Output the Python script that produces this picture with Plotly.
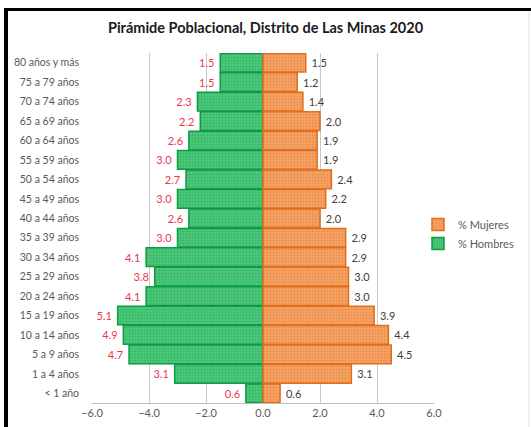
import plotly.graph_objects as go

categories = ["80 años y más", "75 a 79 años", "70 a 74 años", "65 a 69 años", "60 a 64 años",
              "55 a 59 años", "50 a 54 años", "45 a 49 años", "40 a 44 años", "35 a 39 años",
              "30 a 34 años", "25 a 29 años", "20 a 24 años", "15 a 19 años", "10 a 14 años",
              "5 a 9 años", "1 a 4 años", "< 1 año"]
hombres = [1.5, 1.5, 2.3, 2.2, 2.6, 3.0, 2.7, 3.0, 2.6, 3.0, 4.1, 3.8, 4.1, 5.1, 4.9, 4.7, 3.1, 0.6]
mujeres = [1.5, 1.2, 1.4, 2.0, 1.9, 1.9, 2.4, 2.2, 2.0, 2.9, 2.9, 3.0, 3.0, 3.9, 4.4, 4.5, 3.1, 0.6]
x_ticks = [-6, -4, -2, 0, 2, 4, 6]

FONT = "Lato"
W, H = 531, 427
L, R, T, B = 92, 97, 53, 24
PW, PH = W - L - R, H - T - B

def px(x):
    return (x - L) / PW

def py(y):
    return (H - B - y) / PH

fig = go.Figure()
fig.add_trace(go.Bar(
    y=categories, x=[-v for v in hombres], orientation="h", name="% Hombres",
    text=[f"{v:.1f}\u00a0" for v in hombres], textposition="outside", constraintext="none",
    cliponaxis=False, textfont=dict(color="#e8384f", size=11, family=FONT),
    marker=dict(color="#2cb45c", line=dict(color="#0e9a45", width=1.5),
                pattern=dict(shape=".", fgcolor="#1f9e4e", bgcolor="#4cc97a", size=3, solidity=0.4)),
))
fig.add_trace(go.Bar(
    y=categories, x=mujeres, orientation="h", name="% Mujeres",
    text=[f"\u00a0{v:.1f}" for v in mujeres], textposition="outside", constraintext="none",
    cliponaxis=False, textfont=dict(color="#404040", size=11, family=FONT),
    marker=dict(color="#ef8a3c", line=dict(color="#e06e1a", width=1.5),
                pattern=dict(shape=".", fgcolor="#e3731f", bgcolor="#f4a468", size=3, solidity=0.4)),
))

shapes = [
    dict(type="line", xref="paper", yref="paper", x0=px(4), x1=px(531), y0=py(9.5), y1=py(9.5),
         line=dict(color="black", width=3)),
    dict(type="line", xref="paper", yref="paper", x0=px(6), x1=px(6), y0=py(8), y1=py(427),
         line=dict(color="black", width=4)),
    dict(type="line", xref="paper", yref="paper", x0=px(529), x1=px(529), y0=py(12), y1=py(427),
         line=dict(color="#e0e0e0", width=1)),
]

fig.update_layout(
    width=W, height=H,
    margin=dict(l=L, r=R, t=T, b=B, autoexpand=False),
    paper_bgcolor="white", plot_bgcolor="white",
    barmode="overlay", bargap=0.04,
    font=dict(family=FONT, size=11, color="#595959"),
    title=dict(text="<b>Pirámide Poblacional, Distrito de Las Minas 2020</b>",
               x=0.5, xanchor="center", y=1 - 28 / H, yanchor="middle",
               font=dict(family=FONT, size=14.5, color="#1a1a1a")),
    xaxis=dict(range=[-6, 6], tickvals=x_ticks, tickformat=".1f", showgrid=True,
               gridcolor="#c8c8c8", gridwidth=1, zeroline=False, showline=True,
               linecolor="#bfbfbf", ticks="", layer="below traces",
               tickfont=dict(size=11, color="#595959")),
    yaxis=dict(categoryorder="array", categoryarray=categories, autorange="reversed",
               showgrid=False, zeroline=False, showline=False, ticks="",
               ticklabelstandoff=12, tickfont=dict(size=10.5, color="#595959")),
    legend=dict(x=px(418), y=py(234), xanchor="left", yanchor="middle",
                traceorder="reversed", font=dict(size=11, color="#595959"),
                itemwidth=30, tracegroupgap=4, bgcolor="rgba(0,0,0,0)"),
    shapes=shapes,
)

fig.write_html("out.html", config={"displayModeBar": False},
               post_script="document.body.style.margin='0';")
